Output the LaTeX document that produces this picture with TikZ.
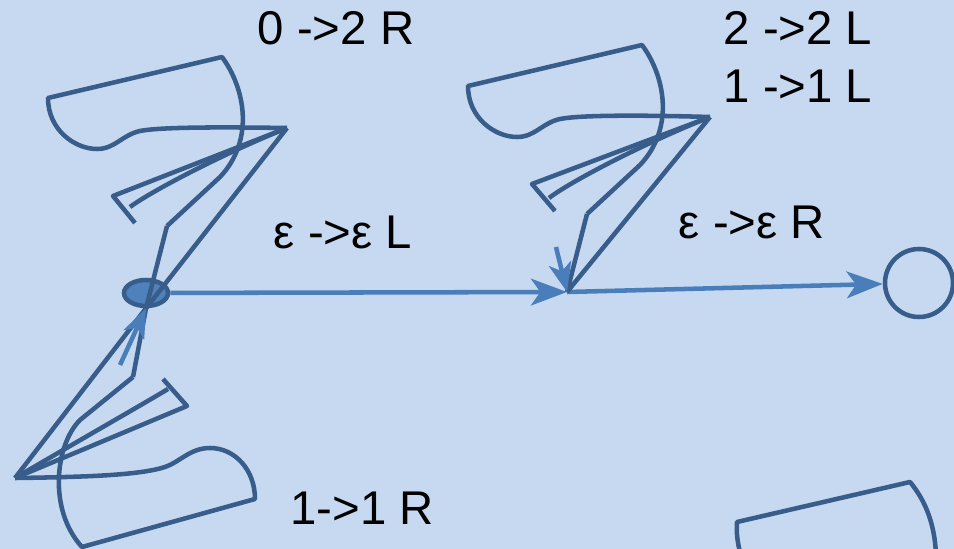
\documentclass[tikz,border=0pt]{standalone}
\usepackage{fontspec}
\setmainfont{Liberation Sans}
\usepackage{xcolor}
\definecolor{SlideBlue}{HTML}{C6D9F1}
\definecolor{LoopBlue}{HTML}{385D8A}
\definecolor{StateBlue}{HTML}{4F81BD}
\definecolor{EdgeBlue}{HTML}{4A7EBB}
\usetikzlibrary{positioning, shapes, arrows.meta, calc}

\begin{document}
\begin{tikzpicture}[x=0.75pt, y=-0.75pt,
  loopline/.style={draw=LoopBlue, line width=3.4pt, line join=round},
  state/.style={ellipse, draw=LoopBlue, line width=3.4pt, inner sep=0pt},
  edge/.style={-{Stealth[length=27pt, width=20pt, inset=7pt]}, draw=EdgeBlue, line width=3.4pt},
  smalledge/.style={-{Stealth[length=22pt, width=17pt, inset=6pt]}, draw=EdgeBlue, line width=3.4pt},
  lbl/.style={font=\fontsize{35.5}{43}\selectfont, inner sep=0pt, align=left}
]
\fill[SlideBlue] (0,0) rectangle (954,549);
\useasboundingbox (0,0) rectangle (954,549);
\clip (0,0) rectangle (954,549);

% States
\node[state, fill=StateBlue, minimum width=33pt, minimum height=19.5pt] (q0) at (146,293) {};
\coordinate (q1) at (567,292);
\node[state, circle, minimum size=51pt] (q2) at (919,283) {};

\draw[edge] (q0) -- (q1);
\draw[edge] (q1) -- (q2);

% Loop on q0 (top)
\coordinate (qa-tip) at (287,128);
\coordinate (qa-knee) at (167,226);
\draw[loopline] (qa-knee) -- (220,177) .. controls (255,140) and (245,88) .. (222,57) -- (48,98)
  .. controls (48,130) and (75,149) .. (97,149) .. controls (115,149) and (122,135) .. (140,131)
  .. controls (160,127) and (220,127) .. (qa-tip);
\draw[loopline] (qa-tip) -- (113,196) -- (135,223);
\draw[loopline] (130,207) .. controls (150,192) and (220,155) .. (qa-tip);
\draw[loopline] (qa-knee) -- (q0.south);
\draw[loopline] (qa-tip) -- (q0.south);

% Loop on q0 (bottom)
\coordinate (qb-tip) at (15,478);
\coordinate (qb-knee) at (133,377);
\coordinate (qb-start) at (120,365);
\draw[loopline] (qb-knee) -- (80,420) .. controls (55,445) and (48,510) .. (82,547) -- (255,499)
  .. controls (255,470) and (235,448) .. (210,448) .. controls (190,448) and (180,462) .. (165,467)
  .. controls (140,475) and (90,477) .. (qb-tip);
\draw[loopline] (qb-tip) -- (187,406) -- (163,379);
\draw[loopline] (168,389) .. controls (150,400) and (80,440) .. (qb-tip);
\draw[loopline] (qb-knee) -- (q0.south);
\draw[loopline] (qb-tip) -- (q0.south);
\draw[smalledge] (qb-start) -- (q0.south);

% Loop on q1
\coordinate (qc-tip) at (710,117);
\coordinate (qc-knee) at (587,214);
\coordinate (qc-start) at (556,247);
\draw[loopline] (qc-knee) -- (640,165) .. controls (675,128) and (665,76) .. (642,45) -- (468,86)
  .. controls (468,118) and (495,137) .. (517,137) .. controls (535,137) and (542,123) .. (560,119)
  .. controls (580,115) and (640,115) .. (qc-tip);
\draw[loopline] (qc-tip) -- (532,184) -- (555,211);
\draw[loopline] (549,198) .. controls (570,182) and (640,145) .. (qc-tip);
\draw[loopline] (qc-knee) -- (q1);
\draw[loopline] (qc-tip) -- (q1);
\draw[smalledge] (qc-start) -- (q1);

% Cut-off shape (bottom right)
\draw[loopline] (742,560) .. controls (738,545) and (736,535) .. (737,522) -- (910,482)
  .. controls (925,500) and (936,525) .. (936,560);

% Labels
\node[lbl] (lbl-a) at (336,28) {0 ->2 R};
\node[lbl] (lbl-c) at (798,57) {2 ->2 L\\1 ->1 L};
\node[lbl] (lbl-e1) at (343,232) {ε ->ε L};
\node[lbl] (lbl-e2) at (752,222) {ε ->ε R};
\node[lbl] (lbl-b) at (362,508) {1->1 R};
\end{tikzpicture}
\end{document}
